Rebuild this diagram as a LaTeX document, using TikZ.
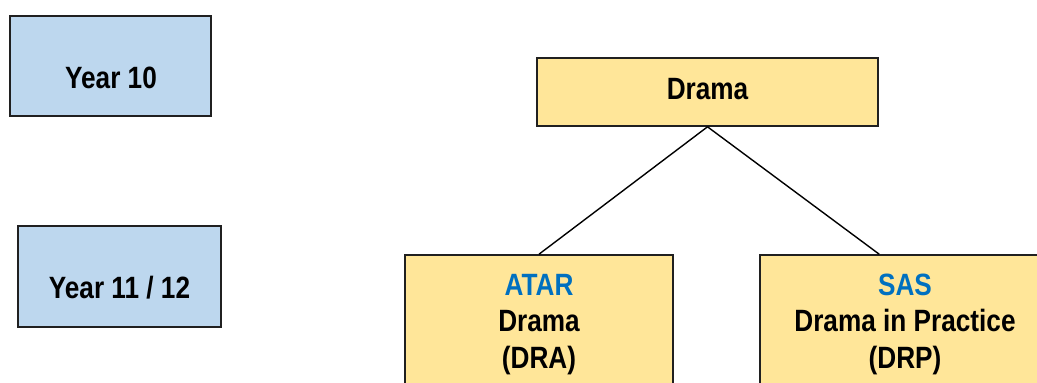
\documentclass[tikz,border=0pt]{standalone}
\usepackage{fontspec}
\setmainfont{Liberation Sans}[FakeStretch=0.85]
\usetikzlibrary{calc}
\definecolor{yearblue}{HTML}{BDD7EE}
\definecolor{coursegold}{HTML}{FFE699}
\definecolor{pathblue}{HTML}{0070C0}
\definecolor{edgegrey}{HTML}{202020}
\begin{document}
\begin{tikzpicture}[x=1pt,y=-1pt,
  box/.style={draw=edgegrey,line width=1.6pt,inner sep=0pt},
  yearbox/.style={box,fill=yearblue},
  coursebox/.style={box,fill=coursegold},
  lbl/.style={font=\fontsize{30.8}{36.5}\selectfont\bfseries,align=center,inner sep=0pt,anchor=base},
  link/.style={line width=1.4pt,draw=black}]
\useasboundingbox (0,0) rectangle (1037,383);
\clip (0,0) rectangle (1037,383);

% year level boxes
\node[yearbox,minimum width=201pt,minimum height=100pt] (y10) at (110.5,66) {};
\node[yearbox,minimum width=203pt,minimum height=101pt] (y1112) at (119.5,276.5) {};
\node[lbl] (y10t) at (111,88) {Year 10};
\node[lbl] (y1112t) at (119.5,298) {Year 11 / 12};

% subject and course boxes
\node[coursebox,minimum width=341pt,minimum height=68pt] (drama) at (707.5,92) {};
\node[coursebox,minimum width=268pt,minimum height=165pt] (atar) at (539,337.5) {};
\node[coursebox,minimum width=290pt,minimum height=165pt] (sas) at (905,337.5) {};
\node[lbl] (dramat) at (707.5,99) {Drama};
% multi-line labels: the base anchor sits on the last line
\node[lbl] (atart) at (539,368) {\textcolor{pathblue}{ATAR}\\Drama\\(DRA)};
\node[lbl] (sast) at (905,368) {\textcolor{pathblue}{SAS}\\Drama in Practice\\(DRP)};

% connectors
\coordinate (sastop) at ($(sas.north west)+(120,0)$);
\draw[link] (drama.south) -- (atar.north);
\draw[link] (drama.south) -- (sastop);
\end{tikzpicture}
\end{document}
